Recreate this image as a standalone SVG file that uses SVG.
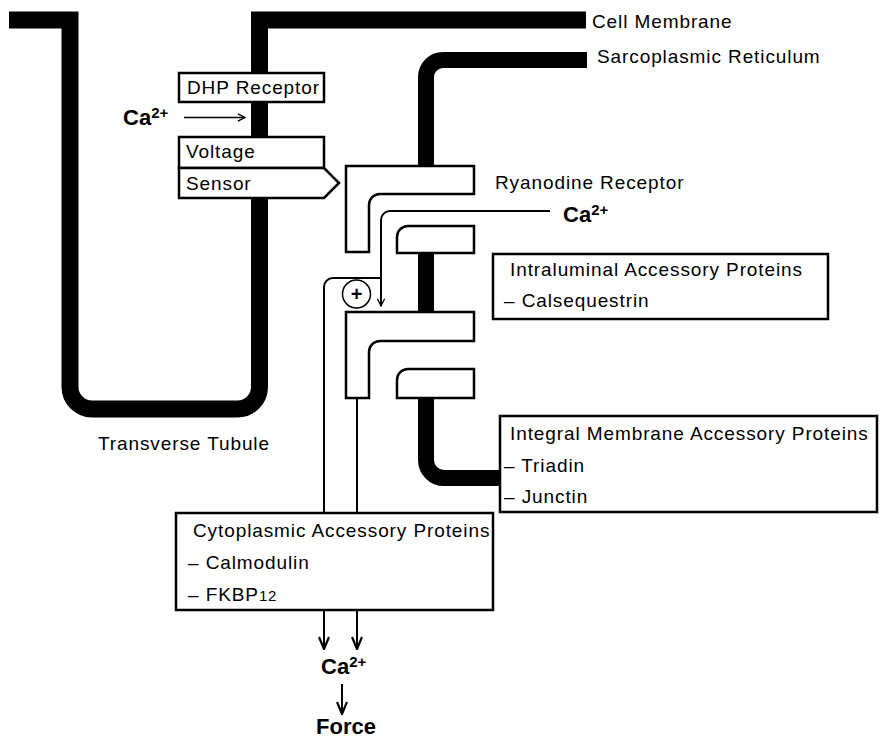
<svg xmlns="http://www.w3.org/2000/svg" width="880" height="740" viewBox="0 0 880 740">
<defs>
<style>
.t{font-family:"Liberation Sans",Arial,sans-serif;font-size:19px;letter-spacing:0.9px;fill:#000}
.b{font-family:"Liberation Sans",Arial,sans-serif;font-size:22px;font-weight:bold;fill:#000}
.sup{font-size:15px}
.mem{fill:none;stroke:#000;stroke-width:17}
.sr{fill:none;stroke:#000;stroke-width:16}
.box{fill:#fff;stroke:#000;stroke-width:2.5}
.ln{fill:none;stroke:#000;stroke-width:2}
.thin{fill:none;stroke:#000;stroke-width:1.3}
</style>
<marker id="arS" viewBox="0 0 10 10" refX="9" refY="5" markerWidth="10" markerHeight="9" markerUnits="userSpaceOnUse" orient="auto">
<path d="M1,1 L9,5 L1,9" fill="none" stroke="#000" stroke-width="1.4"/>
</marker>
<marker id="arL" viewBox="0 0 14 12" refX="13" refY="6" markerWidth="14" markerHeight="12" markerUnits="userSpaceOnUse" orient="auto">
<path d="M1,1 L13,6 L1,11" fill="none" stroke="#000" stroke-width="2.2"/>
</marker>
</defs>
<rect width="880" height="740" fill="#fff"/>

<g id="cell-membrane">
<path class="mem" d="M9,20 H70 V387 A22,22 0 0 0 92,409 H237.5 A22,22 0 0 0 259.5,387 V20 H586"/>
<text class="t" x="592" y="28">Cell Membrane</text>
<text class="t" x="98" y="450">Transverse Tubule</text>
</g>

<g id="sarcoplasmic-reticulum">
<path class="sr" d="M587,60 H443 A17,17 0 0 0 426,77 V168"/>
<rect x="418" y="251" width="16" height="63" fill="#000"/>
<path class="sr" d="M426,396 V460 A18,18 0 0 0 444,478 H502"/>
<text class="t" x="597" y="63">Sarcoplasmic Reticulum</text>
</g>

<g id="connectors">
<path class="ln" d="M324,513 V287 A9,9 0 0 1 333,278 H381"/>
<path class="ln" d="M550,211 H390 A9,9 0 0 0 381,220 V306" marker-end="url(#arS)"/>
<path class="ln" d="M357,398 V513"/>
<path class="thin" d="M184,117.5 H245" marker-end="url(#arS)"/>
<path class="ln" d="M324,610 V649" marker-end="url(#arL)"/>
<path class="ln" d="M357,610 V649" marker-end="url(#arL)"/>
<path class="ln" d="M342,684 V714" marker-end="url(#arL)"/>
</g>

<g id="dhp-receptor">
<rect class="box" x="179" y="73" width="145" height="29"/>
<text class="t" x="187" y="94">DHP Receptor</text>
</g>

<g id="voltage-sensor">
<rect class="box" x="179" y="137" width="145" height="31"/>
<polygon class="box" points="179,168 324,168 339,183 324,198 179,198"/>
<text class="t" x="186" y="158">Voltage</text>
<text class="t" x="186" y="190">Sensor</text>
</g>

<g id="ca-dhp">
<text class="b" x="123" y="125">Ca<tspan class="sup" dy="-7">2+</tspan></text>
</g>

<g id="ryanodine-receptor">
<path class="box" d="M346,166 H474 V194 H380 A11,11 0 0 0 369,205 V252 H346 Z"/>
<path class="box" d="M397,253 V237 A11,11 0 0 1 408,226 H474 V253 Z"/>
<path class="box" d="M346,312 H474 V341 H380 A11,11 0 0 0 369,352 V398 H346 Z"/>
<path class="box" d="M397,398 V380 A11,11 0 0 1 408,369 H474 V398 Z"/>
<text class="t" x="495" y="189">Ryanodine Receptor</text>
</g>

<g id="ca-ryr">
<text class="b" x="563" y="222">Ca<tspan class="sup" dy="-7">2+</tspan></text>
</g>

<g id="plus">
<circle cx="356.5" cy="294" r="14" fill="#fff" stroke="#000" stroke-width="1.5"/>
<text class="b" x="356.5" y="301" text-anchor="middle" style="font-size:20px">+</text>
</g>

<g id="intraluminal">
<rect class="box" x="493" y="254" width="335" height="65"/>
<text class="t" x="510" y="276">Intraluminal Accessory Proteins</text>
<text class="t" x="504" y="307">– Calsequestrin</text>
</g>

<g id="integral-membrane">
<rect class="box" x="500" y="416" width="377" height="96"/>
<text class="t" x="510" y="440">Integral Membrane Accessory Proteins</text>
<text class="t" x="504" y="472">– Triadin</text>
<text class="t" x="504" y="503">– Junctin</text>
</g>

<g id="cytoplasmic">
<rect class="box" x="176" y="513" width="317" height="97"/>
<text class="t" x="193" y="537">Cytoplasmic Accessory Proteins</text>
<text class="t" x="188" y="569">– Calmodulin</text>
<text class="t" x="188" y="601">– FKBP<tspan style="font-size:15px">12</tspan></text>
</g>

<g id="ca-out">
<text class="b" x="321" y="674">Ca<tspan class="sup" dy="-7">2+</tspan></text>
</g>

<g id="force">
<text class="b" x="316" y="734">Force</text>
</g>
</svg>
